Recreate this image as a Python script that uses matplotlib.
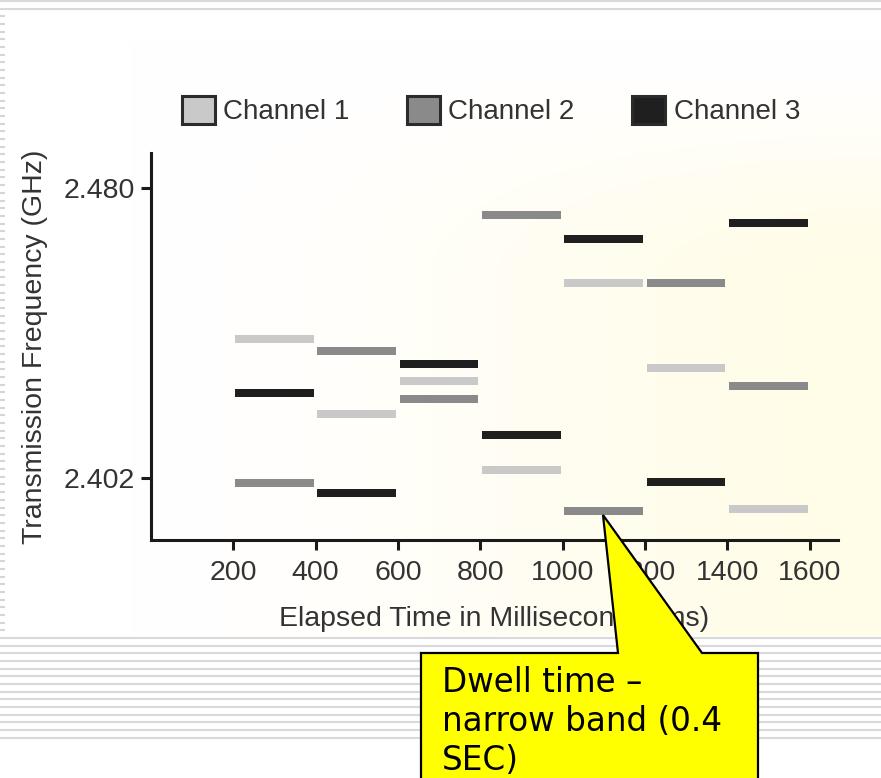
import matplotlib.pyplot as plt
import matplotlib.patches as mpatches
import numpy as np

# données (saut de fréquence, 3 canaux)
slot_start = [200, 400, 600, 800, 1000, 1200, 1400]
dwell = 200
ch1 = [2.4396, 2.4194, 2.4282, 2.4041, 2.4546, 2.4316, 2.3938]
ch2 = [2.4007, 2.4362, 2.4232, 2.4728, 2.3931, 2.4546, 2.4267]
ch3 = [2.4249, 2.3980, 2.4327, 2.4136, 2.4663, 2.4011, 2.4706]
channel_names = ['Channel 1', 'Channel 2', 'Channel 3']
channel_colors = ['#c9c9c9', '#8a8a8a', '#1f1f1f']
xticks = [200, 400, 600, 800, 1000, 1200, 1400, 1600]
yticks = [2.402, 2.480]
ytick_labels = ['2.402', '2.480']
callout_text = "Dwell time \u2013\nnarrow band (0.4\nSEC)"

W, H = 881, 778
fig = plt.figure(figsize=(W / 100, H / 100), dpi=100)
fig.patch.set_facecolor('white')


def smooth(t):
    t = np.clip(t, 0, 1)
    return t * t * (3 - 2 * t)


# fond de la diapo (lignes grises + léger dégradé crème)
bg = fig.add_axes([0, 0, 1, 1], zorder=0)
bg.set_xlim(0, W)
bg.set_ylim(H, 0)
bg.axis('off')
gx = smooth((np.linspace(0, 1, 300) - 0.15) / 0.85)
gy = smooth(np.linspace(0, 1, 200) / 0.4)
g = (gy[:, None] * gx[None, :])[:, :, None]
white = np.array([1, 1, 1])
cream = np.array([1.0, 0.99, 0.91])
img = white * (1 - g) + cream * g
bg.imshow(img, extent=(0, W, 636, 40), aspect='auto', zorder=0)
bg.axhline(1, color='#d9d9d9', lw=1.5)
bg.axhline(9, color='#d9d9d9', lw=1.5)
for k in range(0, 95):
    y = 16.3 + 7.675 * k
    if y < 634:
        bg.plot([0, 5], [y, y], color='#d6d6d6', lw=1.5, solid_capstyle='butt')
    else:
        bg.axhline(y, color='#d9d9d9', lw=1.5)

# graphique principal
ax = fig.add_axes([151 / W, 1 - 540 / H, (838 - 151) / W, (540 - 153) / H], zorder=1)
ax.patch.set_alpha(0)
for freqs, col in zip([ch1, ch2, ch3], channel_colors):
    ax.barh(freqs, width=dwell - 9, left=np.array(slot_start) + 4, height=0.00215,
            color=col, edgecolor='none')

ax.set_xlim(0, 1669)
ax.set_ylim(2.3854, 2.4895)
ax.set_xticks(xticks)
ax.set_yticks(yticks)
ax.set_yticklabels(ytick_labels)
for s in ['top', 'right']:
    ax.spines[s].set_visible(False)
for s in ['left', 'bottom']:
    ax.spines[s].set_linewidth(2.2)
    ax.spines[s].set_color('#1a1a1a')
ax.tick_params(length=7.5, width=2.2, color='#1a1a1a', labelsize=20.5,
               labelcolor='#333333', pad=4)
ax.tick_params(axis='x', pad=7)
for lab in ax.get_xticklabels() + ax.get_yticklabels():
    lab.set_family('Liberation Sans')
ax.set_xlabel('Elapsed Time in Milliseconds (ms)', fontsize=20.5,
              family='Liberation Sans', color='#333333', labelpad=14)
ax.set_ylabel('Transmission Frequency (GHz)', fontsize=20.5,
              family='Liberation Sans', color='#333333', labelpad=11)

handles = [mpatches.Patch(facecolor=c, edgecolor='#2b2b2b', linewidth=2.2, label=n)
           for c, n in zip(channel_colors, channel_names)]
ax.legend(handles=handles, ncol=3, frameon=False, loc='center left',
          bbox_to_anchor=(182 / W, 1 - 110.5 / H), bbox_transform=fig.transFigure,
          borderaxespad=0, borderpad=0, handlelength=1.19, handleheight=1.19,
          handletextpad=0.29, columnspacing=2.08,
          prop={'family': 'Liberation Sans', 'size': 20}, labelcolor='#333333')

# bulle jaune
ov = fig.add_axes([0, 0, 1, 1], zorder=3)
ov.set_xlim(0, W)
ov.set_ylim(H, 0)
ov.axis('off')
ov.patch.set_alpha(0)
bulle = [(421, 653), (618, 653), (603, 515), (702, 653), (758, 653),
         (758, 800), (421, 800)]
ov.add_patch(mpatches.Polygon(bulle, closed=True, facecolor='#ffff00',
                              edgecolor='black', lw=1.6, clip_on=False))
ov.text(442, 666, callout_text, fontsize=23.5, family='DejaVu Sans', va='top',
        ha='left', color='black', linespacing=1.24)

fig.savefig('out.png', dpi=100)
